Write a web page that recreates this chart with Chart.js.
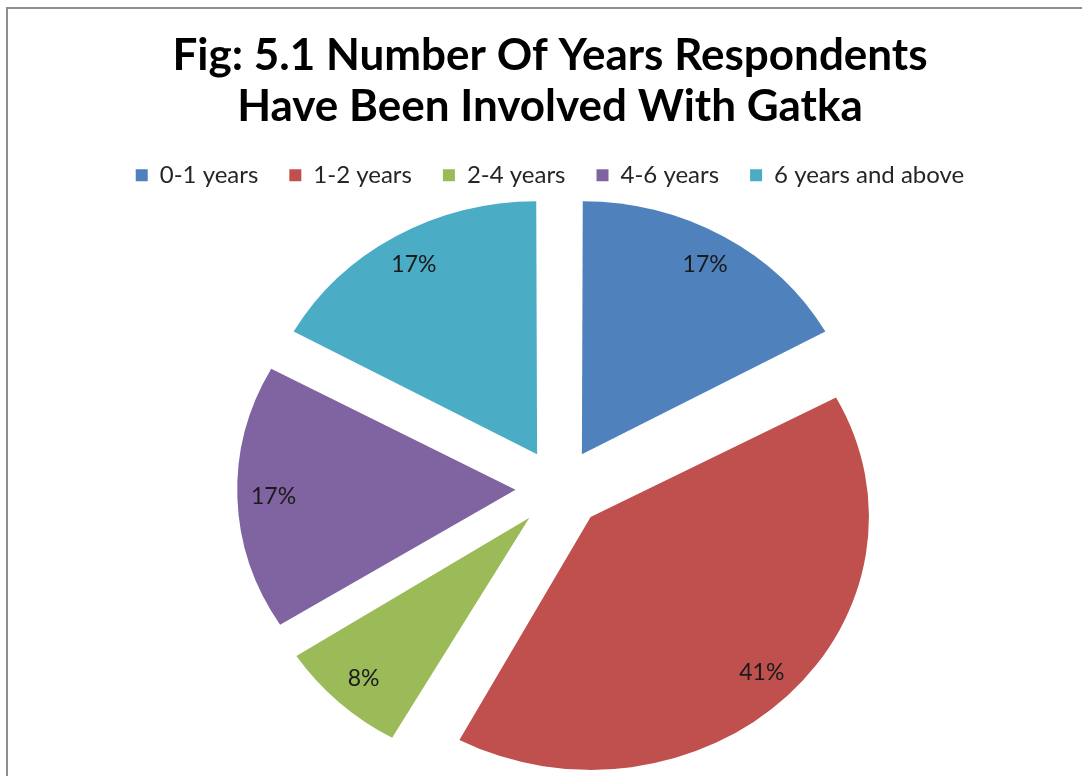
<!DOCTYPE html>
<html>
<head>
<meta charset="utf-8">
<title>Fig 5.1</title>
<script src="https://cdn.jsdelivr.net/npm/chart.js@4.4.1/dist/chart.umd.min.js"></script>
<style>
  html, body { margin: 0; padding: 0; background: #fff; overflow: hidden; }
  #wrap { position: relative; width: 1082px; height: 776px; overflow: hidden; }
  #frame { position: absolute; left: 6px; top: 7px; width: 1100px; height: 800px;
           border-left: 2px solid #8e8e8e; border-top: 2px solid #8e8e8e; }
  canvas { position: absolute; left: 0; top: 0; }
</style>
</head>
<body>
<div id="wrap">
  <div id="frame"></div>
  <canvas id="pieChart" width="1082" height="790"></canvas>
</div>
<script>
const categories = ["0-1 years", "1-2 years", "2-4 years", "4-6 years", "6 years and above"];
const percentages = [17, 41, 8, 17, 17];
const sliceColors = ["#4F81BD", "#C0504D", "#9BBB59", "#8064A2", "#4BACC6"];
const titleLines = ["Fig: 5.1 Number Of Years Respondents", "Have Been Involved With Gatka"];

// the original pie is a bit wider than tall, so stretch the arcs sideways
const stretchX = 1.1;
const shiftX = 9.5;

const ovalPie = {
  id: 'ovalPie',
  beforeDatasetsDraw(chart) {
    const ctx = chart.ctx;
    const meta = chart.getDatasetMeta(0);
    const baseRadius = meta.controller.outerRadius;
    // chart.js grows wide exploded slices; keep every slice at the same radius
    meta.data.forEach(arc => {
      const fix = 1 - Math.sin(Math.min(Math.PI, arc.circumference));
      arc.outerRadius = baseRadius - (arc.options.offset / 4) * fix;
    });
    const cx = meta.data[0].x;
    ctx.save();
    ctx.translate(cx + shiftX, 0);
    ctx.scale(stretchX, 1);
    ctx.translate(-cx, 0);
  },
  afterDatasetsDraw(chart) {
    const ctx = chart.ctx;
    ctx.restore();
    const meta = chart.getDatasetMeta(0);
    const baseRadius = meta.controller.outerRadius;
    ctx.save();
    ctx.font = "23px Lato";
    ctx.fillStyle = "#1a1a1a";
    ctx.textAlign = "center";
    ctx.textBaseline = "middle";
    meta.data.forEach((arc, i) => {
      const mid = (arc.startAngle + arc.endAngle) / 2;
      // chart.js moves an arc by offset / 4
      const dist = arc.options.offset / 4 + baseRadius * 0.87;
      const x = arc.x + shiftX + Math.cos(mid) * dist * stretchX;
      const y = arc.y + Math.sin(mid) * dist;
      ctx.fillText(percentages[i] + "%", x, y);
    });
    ctx.restore();
  }
};

const ctx = document.getElementById("pieChart").getContext("2d");
new Chart(ctx, {
  type: "pie",
  data: {
    labels: categories,
    datasets: [
      {
        data: percentages,
        backgroundColor: sliceColors,
        borderWidth: 0,
        offset: 160,
        radius: 253,
        clip: false
      }
    ]
  },
  options: {
    responsive: false,
    animation: false,
    devicePixelRatio: 1,
    layout: {
      padding: { left: 18, right: 0, top: 0, bottom: 10 }
    },
    plugins: {
      title: {
        display: true,
        text: titleLines,
        color: "#000",
        font: { family: "Lato", size: 44, weight: "bold", lineHeight: 1.15 },
        padding: { top: 31, bottom: 0 }
      },
      legend: {
        position: "top",
        labels: {
          boxWidth: 12,
          boxHeight: 12,
          padding: 31,
          color: "#262626",
          font: { family: "Lato", size: 24 }
        }
      },
      tooltip: { enabled: false }
    }
  },
  plugins: [ovalPie]
});
</script>
</body>
</html>
